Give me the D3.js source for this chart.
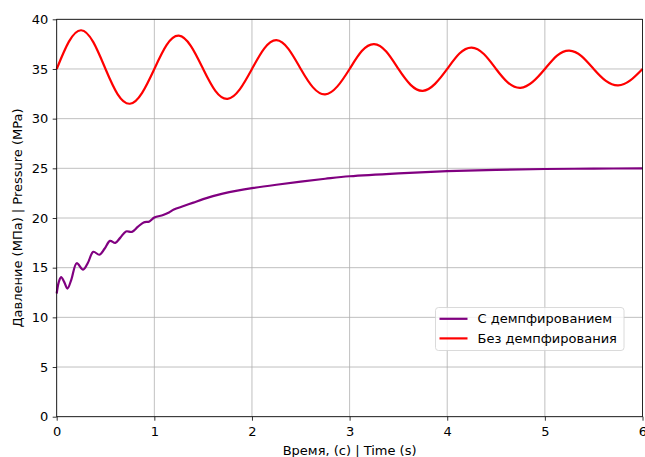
<!DOCTYPE html>
<html>
<head>
<meta charset="utf-8">
<script src="https://cdn.jsdelivr.net/npm/d3@7"></script>
<style>
  body { margin: 0; background: #fff; }
  text { font-family: "DejaVu Sans", sans-serif; }
</style>
</head>
<body>
<svg id="chart" width="645" height="457"></svg>
<script>
// data
const dampedT = [0, 0.02, 0.045, 0.075, 0.11, 0.15, 0.205, 0.27, 0.32, 0.375, 0.437, 0.49, 0.546, 0.6, 0.65, 0.71, 0.77, 0.83, 0.89, 0.95,
  1.0, 1.09, 1.15, 1.2, 1.3, 1.4, 1.5, 1.6, 1.7, 1.85, 2.0, 2.25, 2.5, 2.75, 3.0, 3.5, 4.0, 4.5, 5.0, 5.5, 6.0];
const dampedP = [12.4, 13.5, 14.05, 13.6, 12.9, 13.8, 15.45, 14.8, 15.5, 16.6, 16.3, 16.9, 17.7, 17.5, 18.0, 18.65, 18.6, 19.1, 19.55, 19.65,
  20.05, 20.3, 20.55, 20.85, 21.2, 21.55, 21.9, 22.2, 22.45, 22.75, 23.0, 23.35, 23.67, 23.95, 24.2, 24.5, 24.72, 24.85, 24.93, 24.97, 25.0];

const freeT = d3.range(0, 6.0001, 0.125);
const freeP = [35, 37.75, 38.9, 37.7, 35, 32.45, 31.5, 32.6,
  35, 37.4, 38.35, 37.3, 35, 32.8, 32.0, 32.95,
  35, 37.05, 37.9, 37.0, 35, 33.15, 32.45, 33.25,
  35, 36.8, 37.5, 36.75, 35, 33.4, 32.8, 33.5,
  35, 36.55, 37.15, 36.5, 35, 33.6, 33.1, 33.7,
  35, 36.35, 36.85, 36.3, 35, 33.8, 33.35, 33.85,
  35];

const xTicks = [0, 1, 2, 3, 4, 5, 6];
const yTicks = [0, 5, 10, 15, 20, 25, 30, 35, 40];
const seriesNames = ['С демпфированием', 'Без демпфирования'];
const seriesColors = ['purple', 'red'];

const svg = d3.select('#chart');
const margin = {top: 19.3, right: 2.5, bottom: 40.3, left: 56.7};
const width = +svg.attr('width') - margin.left - margin.right;
const height = +svg.attr('height') - margin.top - margin.bottom;
const g = svg.append('g').attr('transform', `translate(${margin.left},${margin.top})`);
const fontSize = '13px';

const x = d3.scaleLinear().domain([0, 6]).range([0, width]);
const y = d3.scaleLinear().domain([0, 40]).range([height, 0]);

// grid
g.append('g').selectAll('line').data(xTicks).enter().append('line')
  .attr('x1', d => x(d)).attr('x2', d => x(d)).attr('y1', 0).attr('y2', height)
  .attr('stroke', '#b0b0b0').attr('stroke-width', 0.8);
g.append('g').selectAll('line').data(yTicks).enter().append('line')
  .attr('y1', d => y(d)).attr('y2', d => y(d)).attr('x1', 0).attr('x2', width)
  .attr('stroke', '#b0b0b0').attr('stroke-width', 0.8);

// lines
const zip = (ts, ps) => ts.map((t, i) => [t, ps[i]]);
const line = d3.line().x(d => x(d[0])).y(d => y(d[1]));

g.append('path').datum(zip(dampedT, dampedP))
  .attr('fill', 'none').attr('stroke', seriesColors[0]).attr('stroke-width', 2.2)
  .attr('d', line.curve(d3.curveCatmullRom.alpha(0.5)));
g.append('path').datum(zip(freeT, freeP))
  .attr('fill', 'none').attr('stroke', seriesColors[1]).attr('stroke-width', 2.2)
  .attr('d', line.curve(d3.curveNatural));

// axes
const xAxis = d3.axisBottom(x).tickValues(xTicks).tickFormat(d3.format('d')).tickSize(4).tickPadding(6);
const yAxis = d3.axisLeft(y).tickValues(yTicks).tickFormat(d3.format('d')).tickSize(4).tickPadding(4.5);
const xg = g.append('g').attr('transform', `translate(0,${height})`).call(xAxis);
const yg = g.append('g').call(yAxis);
[xg, yg].forEach(a => {
  a.select('.domain').remove();
  a.selectAll('.tick line').attr('stroke', '#000').attr('stroke-width', 0.8);
  a.selectAll('.tick text').attr('fill', '#000').style('font-size', fontSize).style('font-family', 'DejaVu Sans');
});

// frame
g.append('rect').attr('width', width).attr('height', height)
  .attr('fill', 'none').attr('stroke', '#000').attr('stroke-width', 0.8);

// axis titles
svg.append('text')
  .attr('x', margin.left + width / 2).attr('y', 455)
  .attr('text-anchor', 'middle').style('font-size', fontSize)
  .text('Время, (с) | Time (s)');
svg.append('text')
  .attr('transform', `translate(22,${margin.top + height / 2}) rotate(-90)`)
  .attr('text-anchor', 'middle').style('font-size', fontSize)
  .text('Давление (МПа) | Pressure (MPa)');

// legend
const legend = svg.append('g').attr('transform', 'translate(435.5,307.5)');
legend.append('rect').attr('width', 188.5).attr('height', 43).attr('rx', 3)
  .attr('fill', 'rgba(255,255,255,0.8)').attr('stroke', '#d0d0d0').attr('stroke-width', 0.8);
seriesNames.forEach((name, i) => {
  const row = legend.append('g').attr('transform', `translate(0,${11.3 + i * 19.6})`);
  row.append('line').attr('x1', 4).attr('x2', 32).attr('stroke', seriesColors[i]).attr('stroke-width', 2.2);
  row.append('text').attr('x', 42).attr('dy', '0.35em').style('font-size', fontSize).text(name);
});
</script>
</body>
</html>
